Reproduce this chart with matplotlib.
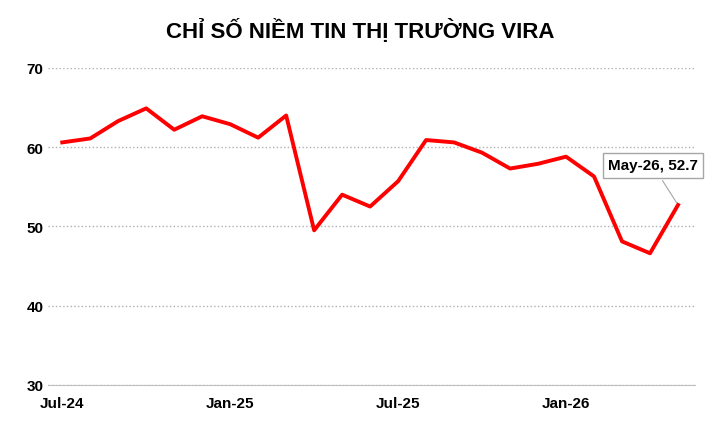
import matplotlib.pyplot as plt
import pandas as pd

months = pd.date_range("2024-07-01", "2026-05-01", freq="MS")
values = [60.6, 61.1, 63.3, 64.9, 62.2, 63.9, 62.9, 61.2, 64.0, 49.5, 54.0, 52.5,
          55.7, 60.9, 60.6, 59.3, 57.3, 57.9, 58.8, 56.3, 48.1, 46.6, 52.7]
tick_labels = ["Jul-24", "Jan-25", "Jul-25", "Jan-26"]
tick_idx = [0, 6, 12, 18]

plt.rcParams['font.family'] = ['Liberation Sans', 'DejaVu Sans']
fig = plt.figure(figsize=(7.2, 4.31), dpi=100)
ax = fig.add_axes([0.067, 0.105, 0.898, 0.735])
x = list(range(len(values)))
ax.plot(x, values, color="#ff0000", lw=2.8)
ax.set_ylim(30, 70)
ax.set_yticks([30, 40, 50, 60, 70])
ax.set_xlim(-0.5, len(values) - 0.4)
ax.set_xticks(tick_idx)
ax.set_xticklabels(tick_labels)
ax.grid(axis="y", ls=":", color="#b0b0b0", lw=1)
for s in ["top", "right", "left"]:
    ax.spines[s].set_visible(False)
ax.spines["bottom"].set_color("#bfbfbf")
ax.tick_params(axis="y", length=0, labelsize=11)
ax.tick_params(axis="x", length=0, labelsize=11, pad=8)
for t in ax.get_xticklabels() + ax.get_yticklabels():
    t.set_fontweight("bold")

fig.suptitle("CHỈ SỐ NIỀM TIN THỊ TRƯỜNG VIRA", fontsize=16, fontweight="bold", y=0.955)

last = len(values) - 1
ax.annotate(f"{months[-1].strftime('%b-%y')}, {values[-1]}", xy=(last, values[-1]),
            xytext=(last - 0.9, 57.7), ha="center", va="center", fontsize=11, fontweight="bold",
            bbox=dict(boxstyle="square,pad=0.35", fc="white", ec="#a6a6a6"),
            arrowprops=dict(arrowstyle="-", color="#a6a6a6", lw=0.8))

fig.savefig("out.png")
